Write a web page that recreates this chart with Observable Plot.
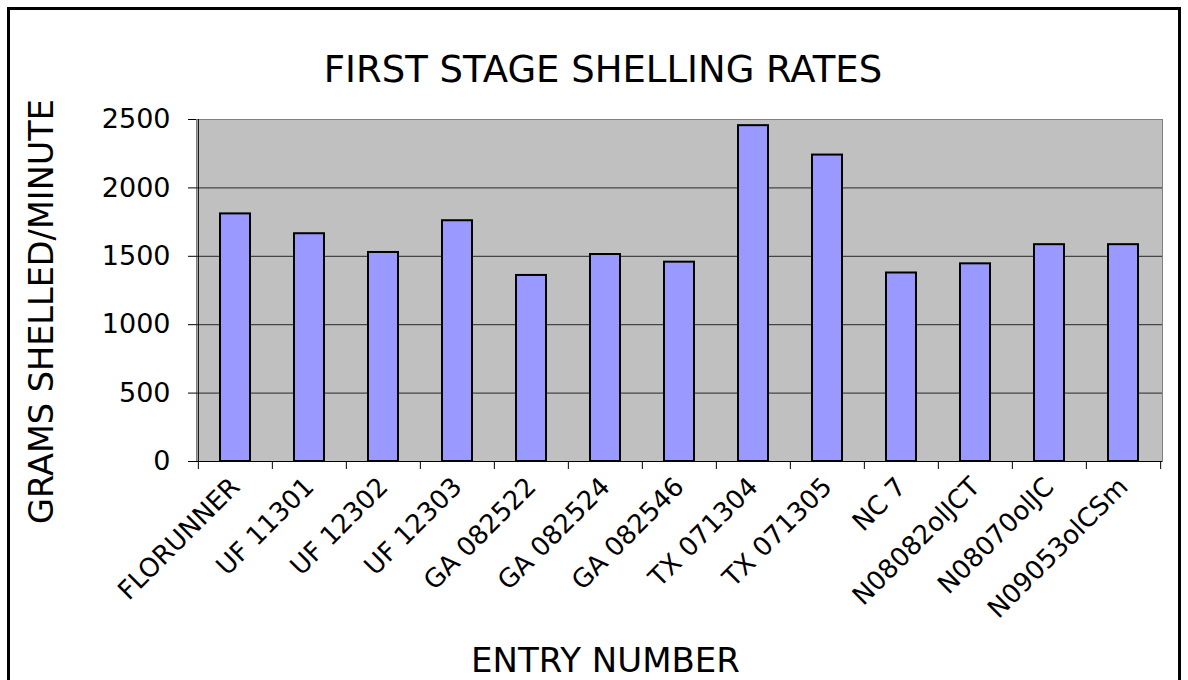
<!DOCTYPE html>
<html><head><meta charset="utf-8">
<script src="https://cdn.jsdelivr.net/npm/d3@7"></script>
<script src="https://cdn.jsdelivr.net/npm/@observablehq/plot@0.6"></script>
<style>
body{margin:0;background:#fff;}
#wrap{position:relative;width:1188px;height:680px;overflow:hidden;background:#fff;font-family:"DejaVu Sans",sans-serif;}
#border{position:absolute;left:7px;top:7px;width:1168px;height:700px;border:3px solid #000;}
#title{position:absolute;top:51px;left:0;width:1206px;text-align:center;font-size:37px;line-height:37px;color:#000;}
#chart{position:absolute;left:0;top:100px;}
</style></head>
<body>
<div id="wrap">
  <div id="border"></div>
  <div id="title"></div>
  <div id="chart"></div>
</div>
<script>
const titleText = "FIRST STAGE SHELLING RATES";
const yTitle = "GRAMS SHELLED/MINUTE";
const xTitle = "ENTRY NUMBER";
const categories = ["FLORUNNER","UF 11301","UF 12302","UF 12303","GA 082522","GA 082524","GA 082546","TX 071304","TX 071305","NC 7","N08082olJCT","N08070olJC","N09053olCSm"];
const values = [1810,1665,1528,1760,1360,1513,1457,2455,2240,1378,1445,1585,1585];
const yTicks = [0,500,1000,1500,2000,2500];

document.getElementById("title").textContent = titleText;

const data = categories.map((c,i)=>({name:c, value:values[i]}));
const W = 1188, mL = 196, mR = 26;
const bw = (W - mL - mR) / categories.length;

const chart = Plot.plot({
  width: W, height: 580,
  marginTop: 19, marginBottom: 219, marginLeft: mL, marginRight: mR,
  style: {fontFamily: "DejaVu Sans", background: "transparent", color: "#000", overflow: "visible"},
  x: {type: "band", domain: categories, padding: 0, label: null},
  y: {domain: [0, 2500], label: null},
  marks: [
    Plot.frame({fill: "#c0c0c0", stroke: "#808080"}),
    Plot.ruleY(yTicks.filter(v => v > 0 && v < 2500), {stroke: "#000", strokeOpacity: 0.8}),
    Plot.barY(data, {x: "name", y: "value", fill: "#9999ff", stroke: "#000", strokeWidth: 2, insetLeft: 22, insetRight: 22}),
    Plot.ruleY([0], {stroke: "#000"}),
    Plot.ruleX([categories[0]], {x: d => d, dx: -bw/2, stroke: "#000"}),
    Plot.ruleX(categories, {x: d => d, y1: 0, y2: 0, insetBottom: -8, dx: -bw/2, stroke: "#000"}),
    Plot.ruleX([categories[categories.length-1]], {x: d => d, y1: 0, y2: 0, insetBottom: -8, dx: bw/2, stroke: "#000"}),
    Plot.axisY({ticks: yTicks, tickSize: 8, tickPadding: 18, fontSize: 27, tickFormat: d => String(d), label: null}),
    Plot.axisX({tickSize: 0, tickRotate: -45, fontSize: 26, tickPadding: 21, label: null}),
    Plot.text([yTitle], {frameAnchor: "left", textAnchor: "middle", lineAnchor: "middle", rotate: -90, dx: -154, dy: 21, fontSize: 33.5}),
    Plot.text([xTitle], {frameAnchor: "bottom", textAnchor: "middle", dx: -74, dy: 210, fontSize: 34})
  ]
});
document.getElementById("chart").appendChild(chart);
</script>
</body></html>
